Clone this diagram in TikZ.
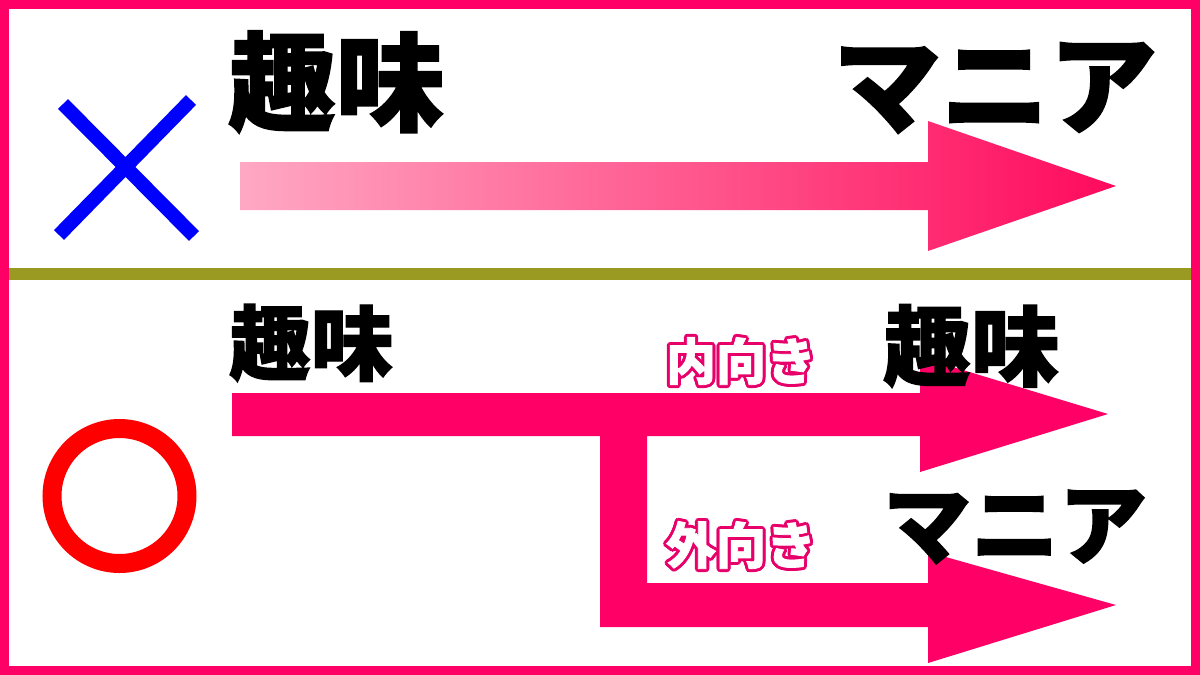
\documentclass[tikz,border=0pt]{standalone}
\usepackage{fontspec}
\newfontfamily\cjk{Noto Sans CJK JP}[BoldFeatures={FakeBold=1.5}]
\usetikzlibrary{calc}
\definecolor{mpink}{HTML}{FF0066}
\definecolor{lightpink}{HTML}{FFA8C4}
\definecolor{deeppink}{HTML}{FF0A5C}
\definecolor{olive}{HTML}{9A9A22}
\definecolor{outlinepink}{HTML}{E8006A}
\definecolor{xblue}{HTML}{0000FF}
\definecolor{ored}{HTML}{FF0000}
\tikzset{
  bigtext/.style={inner sep=0pt, font=\cjk\bfseries\fontsize{108}{108}\selectfont},
  midtext/.style={inner sep=0pt, font=\cjk\bfseries\fontsize{88}{88}\selectfont},
  smalltext/.style={inner sep=0pt, font=\cjk\bfseries\fontsize{82}{82}\selectfont},
  labeltext/.style={inner sep=0pt, font=\cjk\bfseries\fontsize{50}{50}\selectfont},
}
\newcommand{\outlinedlabel}[3]{%
  \foreach \a in {0,30,...,359} {
    \node[labeltext, text=outlinepink] at ($(#1,#2)+(\a:3pt)$) {#3};
  }
  \node[labeltext, text=white] at (#1,#2) {#3};
}
\begin{document}
\begin{tikzpicture}[x=1pt,y=-1pt]
\useasboundingbox (0,0) rectangle (1200,675);
\fill[white] (0,0) rectangle (1200,675);
% frame
\draw[mpink, line width=9pt] (4.5,4.5) rectangle (1195.5,670.5);
% divider
\fill[olive] (9,268) rectangle (1191,280);

% top arrow (gradient)
\shade[left color=lightpink, right color=deeppink]
  (240,162) -- (928,162) -- (928,121) -- (1116,186) -- (928,251) -- (928,210) -- (240,210) -- cycle;

% lower branching arrows
\fill[mpink]
  (232,393) -- (920,393) -- (920,357) -- (1108,414) -- (920,472) -- (920,436)
  -- (647,436) -- (647,583) -- (928,583) -- (928,552) -- (1116,605) -- (928,663)
  -- (928,627) -- (600,627) -- (600,436) -- (232,436) -- cycle;

% blue cross
\draw[xblue, line width=14pt] (63,104) -- (194,236);
\draw[xblue, line width=14pt] (59,235) -- (191,100);

% red circle
\draw[ored, line width=19pt] (119.5,496) circle[radius=67.5];

% texts
\node[bigtext] (t1) at (336,82) {趣味};
\node[bigtext] (t2) at (995,88) {マニア};
\node[smalltext] (t3) at (311,343) {趣味};
\node[midtext] (t4) at (971,346) {趣味};
\node[midtext] (t5) at (1015,527) {マニア};

\outlinedlabel{741}{361}{内向き}
\outlinedlabel{741}{545}{外向き}
\end{tikzpicture}
\end{document}
